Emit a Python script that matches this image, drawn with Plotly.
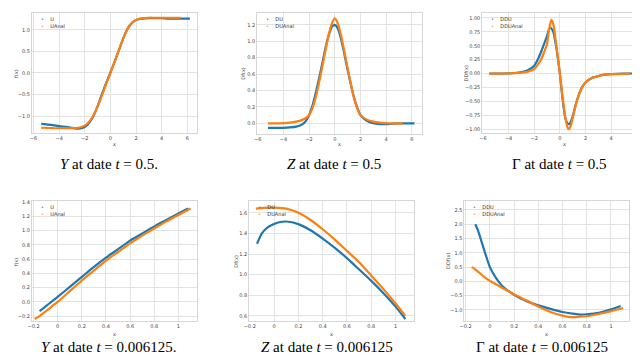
import plotly.graph_objects as go

BLUE = "#1f77b4"
ORANGE = "#ff7f0e"

# --- Y at t = 0.5 ---
Y_X_U = [-5.4, -5.0, -4.5, -4.0, -3.5, -3.0, -2.5, -2.0, -1.75, -1.5, -1.25, -1.0, -0.75, -0.5, -0.25,
         0.0, 0.25, 0.5, 0.75, 1.0, 1.25, 1.5, 1.75, 2.0, 2.5, 3.0, 3.5, 4.0, 4.5, 5.0, 5.5, 6.2]
Y_U = [-1.18, -1.19, -1.21, -1.23, -1.25, -1.27, -1.29, -1.25, -1.19, -1.09, -0.95, -0.77, -0.56, -0.36, -0.17,
       0.01, 0.2, 0.4, 0.6, 0.8, 0.97, 1.1, 1.18, 1.23, 1.26, 1.27, 1.27, 1.27, 1.26, 1.26, 1.26, 1.26]
Y_X_UANAL = [-5.4, -5.0, -4.5, -4.0, -3.5, -3.0, -2.5, -2.0, -1.75, -1.5, -1.25, -1.0, -0.75, -0.5, -0.25,
             0.0, 0.25, 0.5, 0.75, 1.0, 1.25, 1.5, 1.75, 2.0, 2.5, 3.0, 3.5, 4.0, 4.5, 5.0, 5.5]
Y_UANAL = [-1.27, -1.27, -1.28, -1.28, -1.28, -1.28, -1.27, -1.22, -1.16, -1.07, -0.94, -0.78, -0.59, -0.39, -0.19,
           0.0, 0.2, 0.4, 0.6, 0.8, 0.97, 1.1, 1.18, 1.23, 1.27, 1.28, 1.28, 1.28, 1.28, 1.28, 1.28]

# --- Z at t = 0.5 ---
Z_X_DU = [-5.2, -4.5, -4.0, -3.5, -3.0, -2.5, -2.25, -2.0, -1.75, -1.5, -1.25, -1.0, -0.75, -0.5, -0.25,
          0.0, 0.25, 0.5, 0.75, 1.0, 1.25, 1.5, 1.75, 2.0, 2.5, 3.0, 3.5, 4.0, 4.5, 5.0, 5.5, 6.2]
Z_DU = [-0.055, -0.055, -0.055, -0.05, -0.04, -0.01, 0.03, 0.1, 0.21, 0.36, 0.53, 0.71, 0.9, 1.06, 1.17,
        1.2, 1.15, 1.02, 0.84, 0.65, 0.47, 0.31, 0.19, 0.1, 0.03, 0.0, -0.01, -0.01, -0.005, 0.0, 0.0, 0.0]
Z_X_DUANAL = [-5.2, -4.5, -4.0, -3.5, -3.0, -2.5, -2.25, -2.0, -1.75, -1.5, -1.25, -1.0, -0.75, -0.5, -0.25,
              0.0, 0.25, 0.5, 0.75, 1.0, 1.25, 1.5, 1.75, 2.0, 2.5, 3.0, 3.5, 4.0, 4.5, 5.3]
Z_DUANAL = [0.0, 0.0, 0.003, 0.008, 0.02, 0.045, 0.065, 0.1, 0.18, 0.31, 0.48, 0.67, 0.87, 1.06, 1.21,
            1.28, 1.21, 1.06, 0.87, 0.67, 0.48, 0.31, 0.18, 0.1, 0.045, 0.02, 0.008, 0.003, 0.0, 0.0]

# --- Gamma at t = 0.5 ---
G_X_DDU = [-5.5, -4.5, -4.0, -3.5, -3.0, -2.5, -2.0, -1.75, -1.5, -1.25, -1.0, -0.85, -0.7, -0.5, -0.3, -0.15,
           0.0, 0.15, 0.3, 0.45, 0.6, 0.72, 0.85, 1.0, 1.25, 1.5, 1.75, 2.0, 2.5, 3.0, 3.5, 4.0, 5.0, 6.3]
G_DDU = [0.0, 0.0, 0.003, 0.01, 0.025, 0.06, 0.14, 0.24, 0.37, 0.52, 0.68, 0.79, 0.82, 0.74, 0.5, 0.27,
         0.0, -0.33, -0.62, -0.82, -0.9, -0.91, -0.87, -0.77, -0.55, -0.37, -0.24, -0.16, -0.08, -0.045, -0.02, -0.01, 0.0, 0.0]
G_X_DDUANAL = [-5.5, -4.5, -4.0, -3.5, -3.0, -2.5, -2.0, -1.75, -1.5, -1.25, -1.0, -0.85, -0.67, -0.5, -0.3, -0.15,
               0.0, 0.15, 0.3, 0.45, 0.6, 0.7, 0.85, 1.0, 1.25, 1.5, 1.75, 2.0, 2.5, 3.0, 3.5, 4.0, 5.5]
G_DDUANAL = [0.0, 0.0, 0.002, 0.006, 0.016, 0.035, 0.08, 0.15, 0.24, 0.37, 0.53, 0.78, 0.965, 0.88, 0.55, 0.28,
             0.0, -0.3, -0.58, -0.82, -0.97, -1.0, -0.94, -0.8, -0.56, -0.37, -0.24, -0.16, -0.08, -0.045, -0.02, -0.01, 0.0]

# --- Y at t = 0.006125 ---
Y2_X_U = [-0.15, -0.12, -0.09, -0.06, -0.03, 0.0, 0.1, 0.2, 0.3, 0.4, 0.5, 0.6, 0.7, 0.8, 0.9, 1.0, 1.08]
Y2_U = [-0.13, -0.09, -0.05, -0.01, 0.03, 0.07, 0.21, 0.35, 0.49, 0.62, 0.74, 0.86, 0.96, 1.06, 1.15, 1.24, 1.31]
Y2_X_UANAL = [-0.19, -0.15, -0.12, -0.08, -0.04, 0.0, 0.1, 0.2, 0.3, 0.4, 0.5, 0.6, 0.7, 0.8, 0.9, 1.0, 1.1]
Y2_UANAL = [-0.24, -0.2, -0.16, -0.11, -0.05, 0.0, 0.15, 0.3, 0.44, 0.58, 0.7, 0.82, 0.93, 1.03, 1.13, 1.22, 1.31]

# --- Z at t = 0.006125 ---
Z2_X_DU = [-0.14, -0.1, -0.05, 0.0, 0.05, 0.1, 0.2, 0.3, 0.4, 0.5, 0.6, 0.7, 0.8, 0.9, 1.0, 1.08]
Z2_DU = [1.3, 1.4, 1.46, 1.49, 1.51, 1.515, 1.49, 1.43, 1.35, 1.26, 1.16, 1.05, 0.94, 0.82, 0.69, 0.57]
Z2_X_DUANAL = [-0.15, -0.1, -0.05, 0.0, 0.1, 0.2, 0.3, 0.4, 0.5, 0.6, 0.7, 0.8, 0.9, 1.0, 1.08]
Z2_DUANAL = [1.64, 1.645, 1.65, 1.65, 1.64, 1.6, 1.53, 1.44, 1.34, 1.23, 1.12, 0.99, 0.86, 0.72, 0.6]

# --- Gamma at t = 0.006125 ---
G2_X_DDU = [-0.12, -0.1, -0.08, -0.06, -0.03, 0.0, 0.05, 0.1, 0.2, 0.3, 0.4, 0.5, 0.6, 0.7, 0.75, 0.8, 0.9, 1.0, 1.08]
G2_DDU = [2.0, 1.8, 1.55, 1.27, 0.87, 0.5, 0.12, -0.15, -0.47, -0.69, -0.84, -0.96, -1.07, -1.14, -1.16, -1.15, -1.1, -0.98, -0.86]
G2_X_DDUANAL = [-0.15, -0.13, -0.1, -0.05, 0.0, 0.05, 0.1, 0.2, 0.3, 0.4, 0.5, 0.6, 0.65, 0.7, 0.8, 0.9, 1.0, 1.1]
G2_DDUANAL = [0.5, 0.45, 0.35, 0.17, 0.02, -0.1, -0.22, -0.45, -0.66, -0.88, -1.07, -1.2, -1.24, -1.25, -1.22, -1.14, -1.04, -0.93]

CAPTIONS = [
    "<i>Y</i> at date <i>t</i> = 0.5.",
    "<i>Z</i> at date <i>t</i> = 0.5",
    "Γ at date <i>t</i> = 0.5",
    "<i>Y</i> at date <i>t</i> = 0.006125.",
    "<i>Z</i> at date <i>t</i> = 0.006125",
    "Γ at date <i>t</i> = 0.006125",
]
Y_TITLES = ["f(x)", "Df(x)", "DDf(x)", "f(x)", "Df(x)", "DDf(x)"]
NAMES = [("U", "UAnal"), ("DU", "DUAnal"), ("DDU", "DDUAnal")] * 2

series = [
    (Y_X_U, Y_U, Y_X_UANAL, Y_UANAL),
    (Z_X_DU, Z_DU, Z_X_DUANAL, Z_DUANAL),
    (G_X_DDU, G_DDU, G_X_DDUANAL, G_DDUANAL),
    (Y2_X_U, Y2_U, Y2_X_UANAL, Y2_UANAL),
    (Z2_X_DU, Z2_DU, Z2_X_DUANAL, Z2_DUANAL),
    (G2_X_DDU, G2_DDU, G2_X_DDUANAL, G2_DDUANAL),
]

W, H = 640, 360
# plot boxes in pixels: left, right, top, bottom
boxes = [
    (19, 185, 2, 123), (246, 412, 2, 124), (473, 639, 2, 123),
    (19, 185, 192, 313), (238, 404, 192, 313), (455, 621, 192, 313),
]
x_ranges = [[-6.13, 6.72], [-6.05, 6.77], [-6.05, 6.8],
            [-0.214, 1.15], [-0.205, 1.15], [-0.21, 1.15]]
y_ranges = [[-1.39, 1.39], [-0.13, 1.345], [-1.07, 1.09],
            [-0.274, 1.41], [0.547, 1.71], [-1.4, 2.8]]
x_dticks = [2, 2, 2, 0.2, 0.2, 0.2]
y_dticks = [0.5, 0.2, 0.25, 0.2, 0.2, 0.5]
y_formats = [".1f", ".1f", ".2f", ".1f", ".1f", ".1f"]
ytitle_x = [3, 232, 457, 3, 225, 439]
caption_y = [154, 154, 154, 339, 339, 339]
xtitle_y = [134, 134, 134, 326, 326, 326]

small = dict(family="DejaVu Sans", size=5, color="#444")

fig = go.Figure()
layout = dict(
    width=W, height=H,
    margin=dict(l=0, r=0, t=0, b=0),
    paper_bgcolor="white", plot_bgcolor="white",
    showlegend=False,
    annotations=[],
)

axis_common = dict(
    showgrid=True, gridcolor="#e3e3e3", gridwidth=1,
    showline=True, linecolor="#d6d6d6", linewidth=1, mirror=True,
    zeroline=False, ticks="",
    tickfont=small,
)


def paper(px, py):
    return px / W, 1 - py / H


for i, (xu, yu, xa, ya) in enumerate(series):
    n = "" if i == 0 else str(i + 1)
    left, right, top, bottom = boxes[i]
    blue_name, orange_name = NAMES[i]

    fig.add_trace(go.Scatter(
        x=xu, y=yu, mode="lines", name=blue_name,
        line=dict(color=BLUE, width=2.2, shape="spline", smoothing=0.6),
        xaxis="x" + n, yaxis="y" + n,
    ))
    fig.add_trace(go.Scatter(
        x=xa, y=ya, mode="lines", name=orange_name,
        line=dict(color=ORANGE, width=2.2, shape="spline", smoothing=0.6),
        xaxis="x" + n, yaxis="y" + n,
    ))

    layout["xaxis" + n] = dict(
        axis_common,
        domain=[left / W, right / W], anchor="y" + n,
        range=x_ranges[i], dtick=x_dticks[i],
    )
    layout["yaxis" + n] = dict(
        axis_common,
        domain=[1 - bottom / H, 1 - top / H], anchor="x" + n,
        range=y_ranges[i], dtick=y_dticks[i], tickformat=y_formats[i],
    )

    # small legend in the top-left corner, dots like the scatter markers
    lx, ly = paper(left + 7, top + 1)
    legend_text = (
        f"<span style='color:{BLUE}'>•</span>    {blue_name}<br>"
        f"<span style='color:{ORANGE}'>•</span>    {orange_name}"
    )
    layout["annotations"].append(dict(
        text=legend_text, xref="paper", yref="paper", x=lx, y=ly,
        xanchor="left", yanchor="top", align="left", showarrow=False,
        font=dict(family="DejaVu Sans", size=5, color="#333"),
    ))

    # axis titles
    tx, ty = paper((left + right) / 2, xtitle_y[i])
    layout["annotations"].append(dict(
        text="x", xref="paper", yref="paper", x=tx, y=ty,
        xanchor="center", yanchor="middle", showarrow=False, font=small,
    ))
    yx, yy = paper(ytitle_x[i], (top + bottom) / 2)
    layout["annotations"].append(dict(
        text=Y_TITLES[i], xref="paper", yref="paper", x=yx, y=yy, textangle=-90,
        xanchor="center", yanchor="middle", showarrow=False, font=small,
    ))

    cx, cy = paper((left + right) / 2 - 5, caption_y[i])
    layout["annotations"].append(dict(
        text=CAPTIONS[i], xref="paper", yref="paper", x=cx, y=cy,
        xanchor="center", yanchor="middle", showarrow=False,
        font=dict(family="Liberation Serif", size=15, color="black"),
    ))

fig.update_layout(**layout)
fig.write_html("out.html")
